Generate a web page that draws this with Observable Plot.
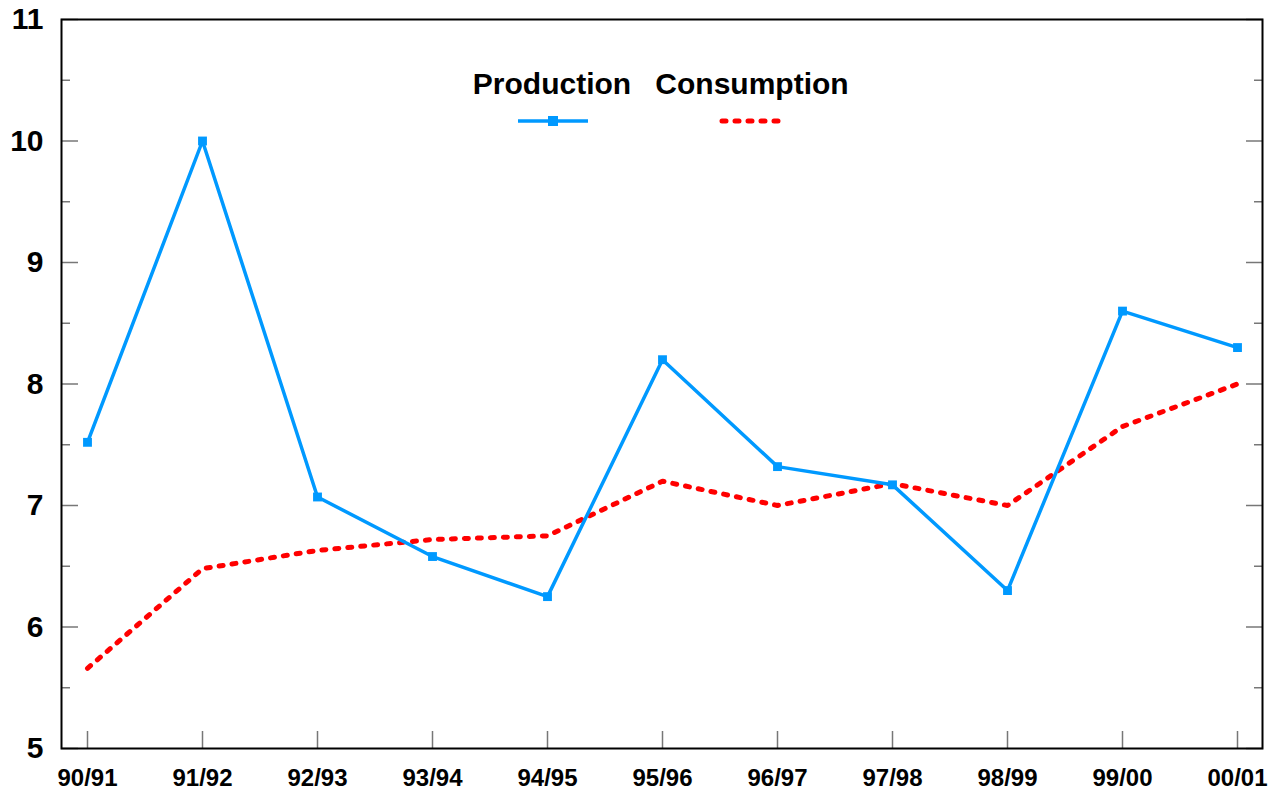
<!DOCTYPE html>
<html>
<head>
<meta charset="utf-8">
<script src="https://cdn.jsdelivr.net/npm/d3@7"></script>
<script src="https://cdn.jsdelivr.net/npm/@observablehq/plot@0.6"></script>
<style>
  html, body { margin: 0; padding: 0; background: #fff; }
  #wrap { position: relative; width: 1275px; height: 791px; font-family: "Liberation Sans", Arial, sans-serif; }
  #legend { position: absolute; left: 0; top: 0; width: 1275px; height: 140px; pointer-events: none; }
  .lt { position: absolute; font-weight: bold; font-size: 30px; color: #000; line-height: 1; transform: translateX(-50%); top: 69px; white-space: nowrap; }
</style>
</head>
<body>
<div id="wrap">
  <div id="chart"></div>
  <div id="legend">
    <div class="lt" style="left:552px">Production</div>
    <div class="lt" style="left:752px">Consumption</div>
    <svg width="1275" height="140" style="position:absolute;left:0;top:0">
      <line x1="518" x2="588" y1="121" y2="121" stroke="#0099ff" stroke-width="3.5"/>
      <rect x="548" y="116" width="10" height="10" fill="#0099ff"/>
      <line x1="722" x2="778" y1="121" y2="121" stroke="#ff0000" stroke-width="5" stroke-linecap="round" stroke-dasharray="4,9"/>
    </svg>
  </div>
</div>
<script>
const seasons = ["90/91","91/92","92/93","93/94","94/95","95/96","96/97","97/98","98/99","99/00","00/01"];
const production = [7.52, 10.0, 7.07, 6.58, 6.25, 8.2, 7.32, 7.17, 6.3, 8.6, 8.3];
const consumption = [5.66, 6.48, 6.63, 6.72, 6.75, 7.2, 7.0, 7.18, 7.0, 7.65, 8.0];
const yMajor = [5, 6, 7, 8, 9, 10, 11];
const yMinor = [5.5, 6.5, 7.5, 8.5, 9.5, 10.5];

const prodData = seasons.map((s, i) => ({season: s, value: production[i]}));
const consData = seasons.map((s, i) => ({season: s, value: consumption[i]}));

const tickColor = "#777";
const chart = Plot.plot({
  width: 1275,
  height: 791,
  marginLeft: 61,
  marginRight: 13,
  marginTop: 19,
  marginBottom: 43,
  style: {fontFamily: "'Liberation Sans', Arial, sans-serif", background: "#fff"},
  x: {type: "point", domain: seasons, padding: 0.21},
  y: {domain: [5, 11]},
  marks: [
    Plot.axisY(yMajor, {anchor: "left", tickSize: 17, insetLeft: 17, fill: "none", stroke: tickColor, strokeWidth: 1.5}),
    Plot.axisY(yMinor, {anchor: "left", tickSize: 9, insetLeft: 9, fill: "none", stroke: tickColor, strokeWidth: 1.5}),
    Plot.axisY(yMajor, {anchor: "right", tickSize: 17, insetRight: 17, fill: "none", stroke: tickColor, strokeWidth: 1.5}),
    Plot.axisY(yMinor, {anchor: "right", tickSize: 9, insetRight: 9, fill: "none", stroke: tickColor, strokeWidth: 1.5}),
    Plot.axisX(seasons, {anchor: "bottom", tickSize: 17, insetBottom: 17, fill: "none", stroke: tickColor, strokeWidth: 1.5}),
    Plot.axisY(yMajor, {anchor: "left", tickSize: 0, tickPadding: 18, tickFormat: d3.format("d"), fontSize: 30, fontWeight: "bold", fill: "#000", label: null}),
    Plot.axisX(seasons, {anchor: "bottom", tickSize: 0, tickPadding: 20, fontSize: 24, fontWeight: "bold", fill: "#000", label: null}),
    Plot.frame({stroke: "#000", strokeWidth: 2}),
    Plot.line(consData, {x: "season", y: "value", stroke: "#ff0000", strokeWidth: 5, strokeLinecap: "round", strokeDasharray: "4,9"}),
    Plot.line(prodData, {x: "season", y: "value", stroke: "#0099ff", strokeWidth: 3.5}),
    Plot.dot(prodData, {x: "season", y: "value", symbol: "square", r: 5, fill: "#0099ff", stroke: "none"})
  ]
});
document.getElementById("chart").appendChild(chart);
</script>
</body>
</html>
